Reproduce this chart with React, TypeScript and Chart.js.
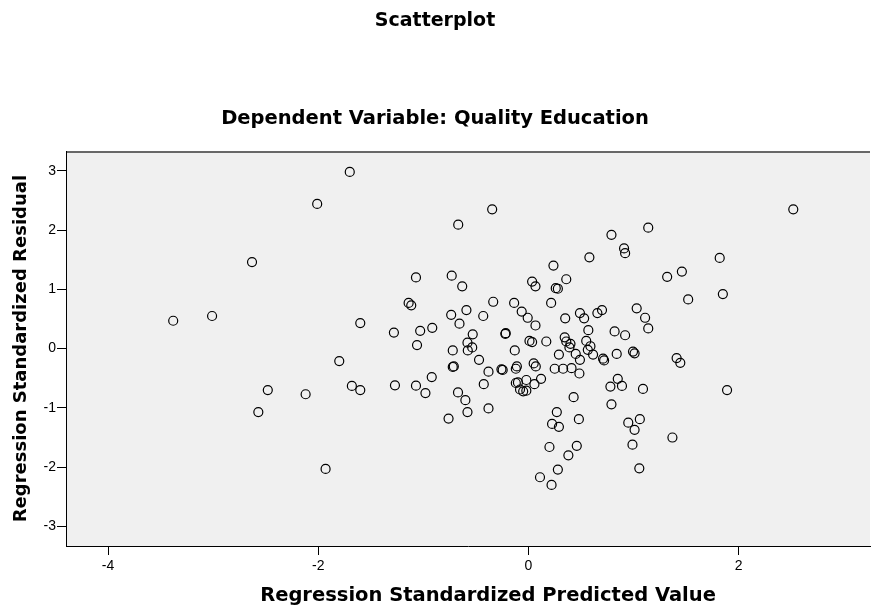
import React, { useEffect, useRef } from "react";
import { Chart, registerables } from "chart.js";

Chart.register(...registerables);

// Regression Standardized Predicted Value (x)
const predictedValues: number[] = [
  -2.63, -3.38, -3.01, -1.70, -2.01, -0.345, -0.668, -1.07, -0.73, -0.63,
  -1.14, -1.115, -0.335, -1.60, -0.735, -0.59, -0.43, -0.656, -1.28, -1.03,
  -0.915, -0.53, -0.22, -1.06, -0.58, -0.535, -0.72, -0.577, -1.80, -0.47,
  -0.72, -0.71, -0.38, -0.257, -0.245, -0.92, -2.12, -1.68, -1.60, -1.27,
  -1.07, -0.98, -0.425, -0.67, -0.60, -0.58, -0.38, -0.76, -1.93, -2.48,
  -2.57, 1.14, 0.79, 0.91, 0.92, 0.58, 0.238, 1.32, 1.46, 1.52,
  0.035, 0.067, 0.26, 0.28, 0.36, -0.136, 0.216, -0.064, -0.007, 0.067,
  -0.216, 0.35, 0.49, 0.53, 0.656, 0.70, 1.03, 1.11, 1.14, 0.57,
  0.82, 0.92, 0.01, 0.035, 0.17, 0.345, 0.36, 0.40, 0.39, 0.55,
  0.59, -0.13, 0.565, 0.615, 0.29, 0.45, 0.49, 0.71, 0.72, 0.84,
  0.995, 1.01, 1.41, 1.445, -0.11, -0.12, 0.05, 0.07, 0.25, 0.33,
  0.41, 0.485, 0.12, -0.02, 0.057, -0.12, -0.10, -0.08, -0.05, -0.02,
  0.43, 0.85, 0.78, 0.89, 1.09, 0.79, 0.27, 0.48, 0.225, 0.29,
  0.95, 1.06, 1.01, 1.37, 0.20, 0.46, 0.99, 0.38, 0.28, 0.11,
  0.22, 1.055, 1.89, 2.52, 1.82, 1.85,
];

// Regression Standardized Residual (y)
const residualValues: number[] = [
  1.46, 0.47, 0.55, 2.98, 2.44, 2.35, 2.09, 1.20, 1.23, 1.05,
  0.77, 0.73, 0.79, 0.43, 0.57, 0.65, 0.55, 0.42, 0.27, 0.30,
  0.35, 0.24, 0.25, 0.06, 0.10, 0.02, -0.03, -0.03, -0.21, -0.19,
  -0.31, -0.30, -0.39, -0.35, -0.36, -0.48, -0.77, -0.63, -0.70, -0.62,
  -0.625, -0.75, -0.60, -0.74, -0.87, -1.07, -1.01, -1.18, -2.03, -0.70,
  -1.07, 2.04, 1.92, 1.69, 1.61, 1.54, 1.40, 1.21, 1.30, 0.83,
  1.13, 1.05, 1.02, 1.01, 1.17, 0.77, 0.77, 0.625, 0.52, 0.39,
  0.26, 0.51, 0.60, 0.51, 0.60, 0.65, 0.68, 0.52, 0.34, 0.31,
  0.29, 0.225, 0.13, 0.11, 0.12, 0.19, 0.12, 0.08, 0.02, 0.13,
  0.04, -0.03, -0.02, -0.10, -0.10, -0.09, -0.19, -0.17, -0.20, -0.09,
  -0.05, -0.08, -0.16, -0.24, -0.30, -0.34, -0.25, -0.30, -0.34, -0.34,
  -0.33, -0.42, -0.51, -0.53, -0.60, -0.58, -0.57, -0.69, -0.72, -0.71,
  -0.82, -0.51, -0.64, -0.63, -0.68, -0.94, -1.07, -1.19, -1.27, -1.32,
  -1.25, -1.19, -1.37, -1.50, -1.66, -1.64, -1.62, -1.80, -2.04, -2.17,
  -2.30, -2.02, -0.70, 2.35, 1.53, 0.92,
];

const xTickValues: number[] = [-4, -2, 0, 2];
const yTickValues: number[] = [-3, -2, -1, 0, 1, 2, 3];

const chartTitle = "Scatterplot";
const chartSubtitle = "Dependent Variable: Quality Education";
const xAxisTitle = "Regression Standardized Predicted Value";
const yAxisTitle = "Regression Standardized Residual";

const TITLE_FONT = "'DejaVu Sans', 'Liberation Sans', Arial, sans-serif";
const TICK_FONT = "'Liberation Sans', Arial, Helvetica, sans-serif";

export default function App() {
  const canvasRef = useRef<HTMLCanvasElement | null>(null);

  useEffect(() => {
    const canvas = canvasRef.current;
    if (!canvas) return;
    const points = predictedValues.map((x, i) => ({ x, y: residualValues[i] }));

    const plotDecor = {
      id: "plotDecor",
      beforeDraw(chart: any) {
        const { ctx, chartArea } = chart;
        const { left, top, right, bottom } = chartArea;
        ctx.save();
        ctx.fillStyle = "#f0f0f0";
        ctx.fillRect(left, top, right - left, bottom - top);
        ctx.strokeStyle = "#3a3a3a";
        ctx.lineWidth = 1.5;
        ctx.beginPath();
        ctx.moveTo(left, top + 0.75);
        ctx.lineTo(right, top + 0.75);
        ctx.stroke();
        ctx.restore();
      },
      afterDraw(chart: any) {
        // x-axis title, centred a little right of the plot centre as in the original
        const { ctx, chartArea, height } = chart;
        ctx.save();
        ctx.fillStyle = "#000";
        ctx.font = `bold 19.5px ${TITLE_FONT}`;
        ctx.textAlign = "center";
        ctx.textBaseline = "middle";
        ctx.fillText(xAxisTitle, (chartArea.left + chartArea.right) / 2 + 20, height - 13);
        ctx.restore();
      },
    };

    const chart = new Chart(canvas, {
      type: "scatter",
      data: {
        datasets: [
          {
            label: yAxisTitle,
            data: points,
            pointRadius: 4.5,
            pointHoverRadius: 4.5,
            pointBorderWidth: 1.2,
            pointBorderColor: "#000",
            pointBackgroundColor: "rgba(0,0,0,0)",
            borderColor: "#000",
            backgroundColor: "rgba(0,0,0,0)",
          },
        ],
      },
      options: {
        responsive: false,
        animation: false,
        events: [],
        layout: { autoPadding: false, padding: { left: 0, right: 3, top: 0, bottom: 0 } },
        plugins: {
          legend: { display: false },
          tooltip: { enabled: false },
          title: {
            display: true,
            text: chartTitle,
            color: "#000",
            font: { family: TITLE_FONT, size: 19, weight: "bold" },
            padding: { top: 10, bottom: 0 },
          },
          subtitle: {
            display: true,
            text: chartSubtitle,
            color: "#000",
            font: { family: TITLE_FONT, size: 19.5, weight: "bold" },
            padding: { top: 74.5, bottom: 20.5 },
          },
        },
        scales: {
          x: {
            type: "linear",
            min: -4.4,
            max: 3.25,
            afterBuildTicks: (scale: any) => {
              scale.ticks = xTickValues.map((v) => ({ value: v }));
            },
            afterFit: (scale: any) => {
              scale.height = 63;
            },
            grid: { drawOnChartArea: false, drawTicks: true, tickLength: 9, color: "#000" },
            border: { display: true, color: "#000", width: 1 },
            ticks: { color: "#000", font: { family: TICK_FONT, size: 14 }, padding: 3, maxRotation: 0 },
            title: { display: false, text: xAxisTitle },
          },
          y: {
            type: "linear",
            min: -3.33,
            max: 3.33,
            afterBuildTicks: (scale: any) => {
              scale.ticks = yTickValues.map((v) => ({ value: v }));
            },
            afterFit: (scale: any) => {
              scale.width = 66;
            },
            grid: { drawOnChartArea: false, drawTicks: true, tickLength: 9, color: "#000" },
            border: { display: true, color: "#000", width: 1 },
            ticks: { color: "#000", font: { family: TICK_FONT, size: 14 }, padding: 1 },
            title: {
              display: true,
              text: yAxisTitle,
              color: "#000",
              font: { family: TITLE_FONT, size: 18, weight: "bold" },
              padding: { top: 11, bottom: 0 },
            },
          },
        },
      },
      plugins: [plotDecor],
    } as any);

    return () => chart.destroy();
  }, []);

  return (
    <div style={{ position: "absolute", left: 0, top: 0, width: 873, height: 609, background: "#fff" }}>
      <canvas ref={canvasRef} width={873} height={609} style={{ display: "block" }} />
    </div>
  );
}
